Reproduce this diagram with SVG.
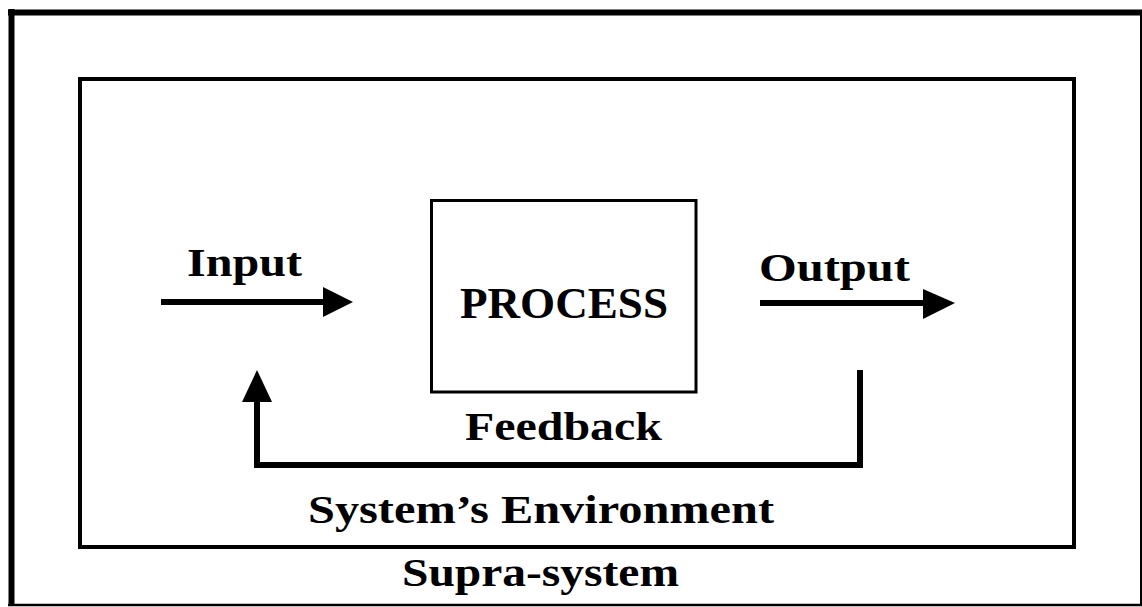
<svg xmlns="http://www.w3.org/2000/svg" width="1142" height="607" viewBox="0 0 1142 607">
  <style>
    .lbl { font-family: "Liberation Serif", "DejaVu Serif", serif; font-weight: bold; fill: #000; }
    .frame { fill: none; stroke: #000; }
    .conn { fill: none; stroke: #000; stroke-width: 6; stroke-linejoin: miter; }
    .head { fill: #000; stroke: none; }
  </style>
  <rect x="0" y="0" width="1142" height="607" fill="#fff"/>

  <g id="supra-system">
    <line class="frame" x1="8" y1="12.5" x2="1142" y2="12.5" stroke-width="6"/>
    <line class="frame" x1="11.5" y1="9" x2="11.5" y2="606" stroke-width="6"/>
    <line class="frame" x1="1141" y1="12" x2="1141" y2="606" stroke-width="2"/>
    <line class="frame" x1="8" y1="605" x2="1142" y2="605" stroke-width="2.5"/>
    <text class="lbl" x="402" y="586" font-size="40" textLength="277" lengthAdjust="spacingAndGlyphs">Supra-system</text>
  </g>

  <g id="environment">
    <rect class="frame" x="80" y="79" width="994" height="468" stroke-width="4"/>
    <text class="lbl" x="308" y="523" font-size="40" textLength="466" lengthAdjust="spacingAndGlyphs">System’s Environment</text>
  </g>

  <g id="process">
    <rect class="frame" x="431.5" y="200.5" width="264.5" height="191.5" stroke-width="3"/>
    <text class="lbl" x="460" y="318" font-size="45" textLength="208" lengthAdjust="spacingAndGlyphs">PROCESS</text>
  </g>

  <g id="input-label">
    <text class="lbl" x="187" y="276" font-size="40" textLength="115" lengthAdjust="spacingAndGlyphs">Input</text>
  </g>
  <g id="output-label">
    <text class="lbl" x="759" y="281" font-size="40" textLength="151" lengthAdjust="spacingAndGlyphs">Output</text>
  </g>
  <g id="feedback-label">
    <text class="lbl" x="465" y="440" font-size="40" textLength="197" lengthAdjust="spacingAndGlyphs">Feedback</text>
  </g>

  <g id="connectors">
    <line class="conn" x1="161" y1="302" x2="325" y2="302"/>
    <polygon class="head" points="323,287 353,302 323,317"/>
    <line class="conn" x1="760" y1="303" x2="925" y2="303"/>
    <polygon class="head" points="923,289 955,303 923,319"/>
    <polyline class="conn" points="860,370 860,465 257,465 257,400"/>
    <polygon class="head" points="257,370 272,402 242,402"/>
  </g>
</svg>
